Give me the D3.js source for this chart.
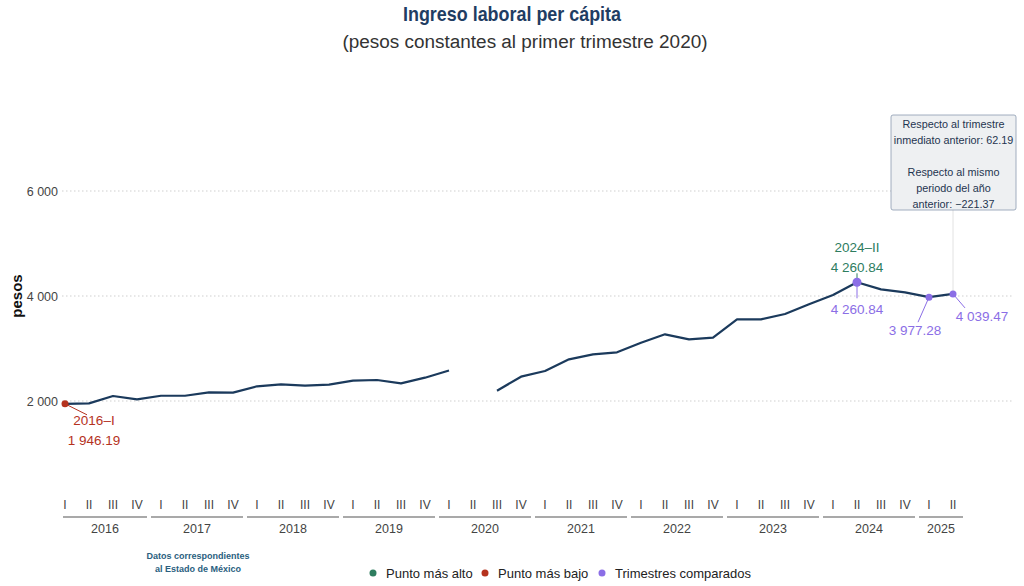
<!DOCTYPE html>
<html>
<head>
<meta charset="utf-8">
<title>Ingreso laboral per cápita</title>
<script src="https://d3js.org/d3.v7.min.js"></script>
<style>
	body { margin: 0; background: #fff; }
	svg text { font-family: 'Liberation Sans', Arial, sans-serif; }
</style>
</head>
<body>
<script>
// datos (trimestres 2016-I a 2025-II, 2020-II sin dato)
var years = [2016, 2017, 2018, 2019, 2020, 2021, 2022, 2023, 2024, 2025];
var quarterNames = ["I", "II", "III", "IV"];
var values = [
	1946.19, 1955, 2095, 2030,
	2100, 2100, 2165, 2160,
	2280, 2318, 2292, 2311,
	2387, 2400, 2336, 2444,
	2580, null, 2196, 2463,
	2571, 2794, 2889, 2927,
	3111, 3270, 3175, 3206,
	3556, 3556, 3657, 3842,
	4019, 4260.84, 4127, 4070,
	3977.28, 4039.47
];
var yTicks = [2000, 4000, 6000];
var legendItems = ["Punto más alto", "Punto más bajo", "Trimestres comparados"];
var legendColors = ["#2e7d5f", "#b5321e", "#8b6ee6"];

var w = 1024, h = 586;
var lineColor = "#1b3a5c";

var data = values.map(function (v, i) {
	return { i: i, year: years[Math.floor(i / 4)], q: quarterNames[i % 4], v: v };
});

var locale = d3.formatLocale({ decimal: ".", thousands: " ", grouping: [3], minus: "\u2212" });
var fmt = locale.format(",.2f");
var fmtTick = locale.format(",");

var x = d3.scaleLinear().domain([0, values.length - 1]).range([65, 953]);
var y = d3.scaleLinear().domain([2000, 6000]).range([401, 191]);

var svg = d3.select("body").append("svg")
	.attr("width", w).attr("height", h);

// título
svg.append("text").attr("x", 512).attr("y", 21)
	.attr("text-anchor", "middle")
	.attr("textLength", 218).attr("lengthAdjust", "spacingAndGlyphs")
	.style("font-size", "20.5px").style("font-weight", "bold").style("fill", "#1f3d63")
	.text("Ingreso laboral per cápita");
svg.append("text").attr("x", 525).attr("y", 48)
	.attr("text-anchor", "middle")
	.attr("textLength", 365).attr("lengthAdjust", "spacingAndGlyphs")
	.style("font-size", "18px").style("fill", "#333")
	.text("(pesos constantes al primer trimestre 2020)");

// rejilla y eje y
svg.append("g").selectAll("line").data(yTicks).enter().append("line")
	.attr("x1", 62).attr("x2", 1012)
	.attr("y1", function (d) { return y(d); }).attr("y2", function (d) { return y(d); })
	.attr("stroke", "#cfcfcf").attr("stroke-dasharray", "1.5,2.5");
svg.append("g").selectAll("text").data(yTicks).enter().append("text")
	.attr("x", 58).attr("y", function (d) { return y(d) + 4.5; })
	.attr("text-anchor", "end")
	.style("font-size", "12.5px").style("fill", "#444")
	.text(function (d) { return fmtTick(d); });
svg.append("text")
	.attr("transform", "translate(22," + y(4000) + ") rotate(-90)")
	.attr("text-anchor", "middle")
	.style("font-size", "15px").style("font-weight", "bold").style("fill", "#111")
	.text("pesos");

// eje x: trimestres y años
svg.append("g").selectAll("text").data(data).enter().append("text")
	.attr("x", function (d) { return x(d.i); }).attr("y", 509)
	.attr("text-anchor", "middle")
	.style("font-size", "12px").style("fill", "#444")
	.text(function (d) { return d.q; });

var yearGroups = years.map(function (yr) {
	var idx = data.filter(function (d) { return d.year === yr; }).map(function (d) { return d.i; });
	return { year: yr, first: d3.min(idx), last: d3.max(idx) };
});
svg.append("g").selectAll("line").data(yearGroups).enter().append("line")
	.attr("x1", function (d) { return Math.max(63, x(d.first) - 10); })
	.attr("x2", function (d) { return x(d.last) + 10; })
	.attr("y1", 517).attr("y2", 517)
	.attr("stroke", "#555").attr("stroke-width", 1.2);
svg.append("g").selectAll("text").data(yearGroups).enter().append("text")
	.attr("x", function (d) { return (Math.max(63, x(d.first) - 10) + x(d.last) + 10) / 2; })
	.attr("y", 533)
	.attr("text-anchor", "middle")
	.style("font-size", "12.5px").style("fill", "#444")
	.text(function (d) { return d.year; });

// línea
var line = d3.line()
	.defined(function (d) { return d.v !== null; })
	.x(function (d) { return x(d.i); })
	.y(function (d) { return y(d.v); });
svg.append("path").datum(data)
	.attr("d", line)
	.attr("fill", "none").attr("stroke", lineColor).attr("stroke-width", 2.2)
	.attr("stroke-linejoin", "round");

// tooltip: línea guía y cuadro
var last = data[data.length - 1];
var prev = data[data.length - 2];
var yearAgo = data[data.length - 5];
svg.append("line")
	.attr("x1", x(last.i)).attr("x2", x(last.i))
	.attr("y1", 210).attr("y2", y(last.v))
	.attr("stroke", "#e2e2e2").attr("stroke-width", 1);
svg.append("rect")
	.attr("x", 891).attr("y", 115).attr("width", 125).attr("height", 95)
	.attr("rx", 2)
	.attr("fill", "#eef0f2").attr("stroke", "#8a9bb0").attr("stroke-width", 0.8);
var boxLines = [
	"Respecto al trimestre",
	"inmediato anterior: " + fmt(last.v - prev.v),
	"",
	"Respecto al mismo",
	"periodo del año",
	"anterior: " + fmt(last.v - yearAgo.v)
];
svg.append("g").selectAll("text").data(boxLines).enter().append("text")
	.attr("x", 953.5).attr("y", function (d, i) { return 128 + i * 15.9; })
	.attr("text-anchor", "middle")
	.style("font-size", "10.8px").style("fill", "#1f3550")
	.text(function (d) { return d; });

// punto más bajo y más alto
var valid = data.filter(function (d) { return d.v !== null; });
var low = valid.reduce(function (a, b) { return b.v < a.v ? b : a; });
var high = valid.reduce(function (a, b) { return b.v > a.v ? b : a; });

svg.append("line")
	.attr("x1", x(low.i)).attr("y1", y(low.v))
	.attr("x2", x(low.i) + 22).attr("y2", y(low.v) + 11)
	.attr("stroke", legendColors[1]).attr("stroke-width", 1);
svg.append("circle").attr("cx", x(low.i)).attr("cy", y(low.v)).attr("r", 3.5)
	.attr("fill", legendColors[1]);
svg.append("text").attr("x", x(low.i) + 29).attr("y", y(low.v) + 21)
	.attr("text-anchor", "middle")
	.style("font-size", "13.5px").style("fill", legendColors[1])
	.text(low.year + "\u2013" + low.q);
svg.append("text").attr("x", x(low.i) + 29).attr("y", y(low.v) + 41)
	.attr("text-anchor", "middle")
	.style("font-size", "13.5px").style("fill", legendColors[1])
	.text(fmt(low.v));

svg.append("line")
	.attr("x1", x(high.i)).attr("x2", x(high.i))
	.attr("y1", y(high.v)).attr("y2", y(high.v) - 9)
	.attr("stroke", legendColors[0]).attr("stroke-width", 1);
svg.append("text").attr("x", x(high.i)).attr("y", y(high.v) - 30)
	.attr("text-anchor", "middle")
	.style("font-size", "13.5px").style("fill", legendColors[0])
	.text(high.year + "\u2013" + high.q);
svg.append("text").attr("x", x(high.i)).attr("y", y(high.v) - 10)
	.attr("text-anchor", "middle")
	.style("font-size", "13.5px").style("fill", legendColors[0])
	.text(fmt(high.v));

// trimestres comparados
var compared = [
	{ d: high, dx: 0, dy: 16, tx: 0, ty: 32, r: 4.5 },
	{ d: prev, dx: -11, dy: 25, tx: -14, ty: 38, r: 3.5 },
	{ d: last, dx: 12, dy: 14, tx: 29, ty: 27, r: 3.5 }
];
compared.forEach(function (c) {
	var px = x(c.d.i), py = y(c.d.v);
	svg.append("line")
		.attr("x1", px).attr("y1", py)
		.attr("x2", px + c.dx).attr("y2", py + c.dy)
		.attr("stroke", legendColors[2]).attr("stroke-width", 1);
	svg.append("circle").attr("cx", px).attr("cy", py).attr("r", c.r)
		.attr("fill", legendColors[2]);
	svg.append("text").attr("x", px + c.tx).attr("y", py + c.ty)
		.attr("text-anchor", "middle")
		.style("font-size", "13.5px").style("fill", legendColors[2])
		.text(fmt(c.d.v));
});

// nota
svg.append("g").selectAll("text")
	.data(["Datos correspondientes", "al Estado de México"]).enter().append("text")
	.attr("x", 198).attr("y", function (d, i) { return 559 + i * 13; })
	.attr("text-anchor", "middle")
	.style("font-size", "9px").style("font-weight", "bold").style("fill", "#2a6080")
	.text(function (d) { return d; });

// leyenda
var legendX = [373, 485, 602];
var lg = svg.append("g").selectAll("g").data(legendItems).enter().append("g")
	.attr("transform", function (d, i) { return "translate(" + legendX[i] + ",573)"; });
lg.append("circle").attr("r", 3.5).attr("fill", function (d, i) { return legendColors[i]; });
lg.append("text").attr("x", 13).attr("y", 4.5)
	.style("font-size", "13px").style("fill", "#222")
	.text(function (d) { return d; });
</script>
</body>
</html>
